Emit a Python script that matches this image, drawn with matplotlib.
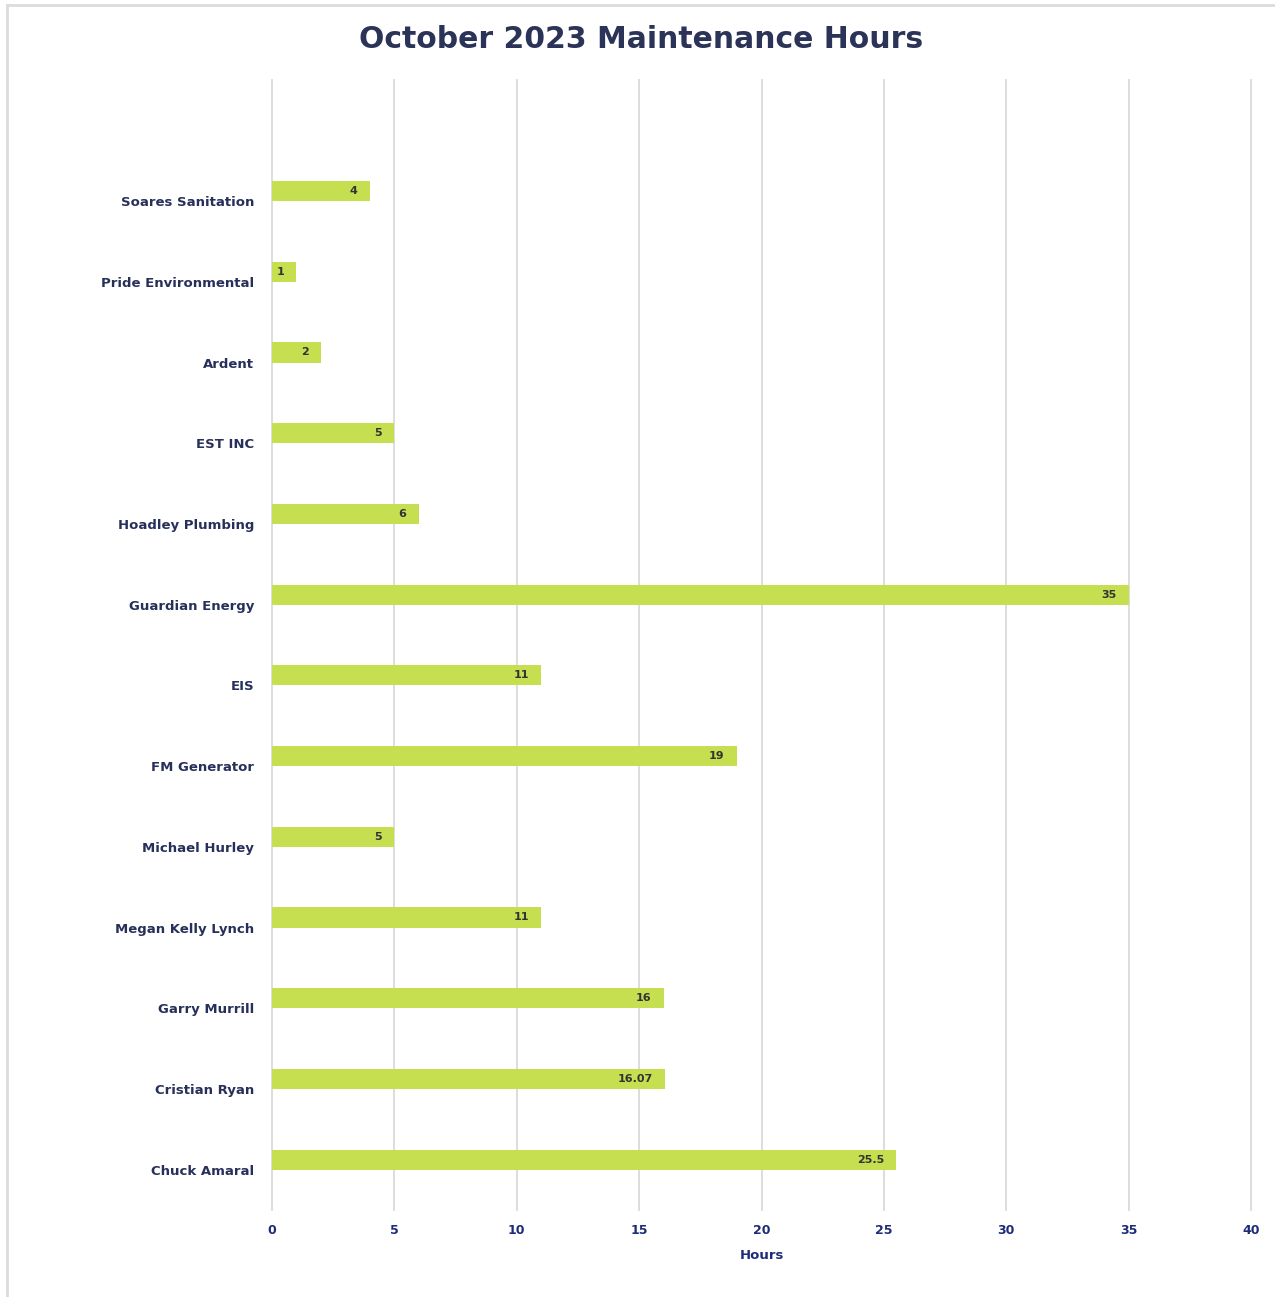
import numpy as np
import matplotlib.pyplot as plt
from matplotlib.lines import Line2D

# data (top to bottom as shown)
names = ["Soares Sanitation", "Pride Environmental", "Ardent", "EST INC",
         "Hoadley Plumbing", "Guardian Energy", "EIS", "FM Generator",
         "Michael Hurley", "Megan Kelly Lynch", "Garry Murrill",
         "Cristian Ryan", "Chuck Amaral"]
hours = [4, 1, 2, 5, 6, 35, 11, 19, 5, 11, 16, 16.07, 25.5]
value_labels = ["4", "1", "2", "5", "6", "35", "11", "19", "5", "11", "16",
                "16.07", "25.5"]
xticks = [0, 5, 10, 15, 20, 25, 30, 35, 40]

bar_color = "#C5DF50"
navy = "#27305A"
tick_color = "#1E2B78"
grid_color = "#DADADA"

fig = plt.figure(figsize=(12.75, 12.97), dpi=100)
# frame: only top and left edges are visible in the original crop
fig.lines.append(Line2D([7 / 1275, 7 / 1275], [0, 1 - 5 / 1297], transform=fig.transFigure,
                        color="#DCDCDC", linewidth=2))
fig.lines.append(Line2D([7 / 1275, 1], [1 - 5 / 1297, 1 - 5 / 1297], transform=fig.transFigure,
                        color="#DCDCDC", linewidth=2))

ax = fig.add_axes([272 / 1275, 1 - 1210 / 1297, (1251 - 272) / 1275, (1210 - 80) / 1297])

# one empty slot at the top, categories 1..13
pos = np.arange(1, len(names) + 1)
ax.barh(pos - 0.124, hours, height=0.25, color=bar_color, zorder=3)
for p, v, lab in zip(pos, hours, value_labels):
    ax.text(v - 0.5, p - 0.124, lab, ha="right", va="center", fontsize=8,
            fontweight="bold", color="#333333", zorder=4)

ax.set_ylim(len(names) + 0.5, -0.5)
ax.set_xlim(0, 40)
ax.set_yticks(pos)
ax.set_yticklabels(names, fontsize=9.5, fontweight="bold", color=navy)
ax.set_xticks(xticks)
ax.set_xticklabels([str(t) for t in xticks], fontsize=9, fontweight="bold", color=tick_color)
ax.tick_params(axis="both", length=0)
ax.tick_params(axis="y", pad=13)
ax.tick_params(axis="x", pad=10)
ax.xaxis.grid(True, color=grid_color, linewidth=1.3, zorder=0)
for gl in ax.get_xgridlines():
    gl.set_clip_on(False)
for s in ax.spines.values():
    s.set_visible(False)

ax.set_xlabel("Hours", fontsize=9.5, fontweight="bold", color=tick_color, labelpad=9)
fig.text(641 / 1275, 1 - 40 / 1297, "October 2023 Maintenance Hours", ha="center",
         va="center", fontsize=21.5, fontweight="bold", color="#2B3458")

fig.savefig("out.png", dpi=100)
